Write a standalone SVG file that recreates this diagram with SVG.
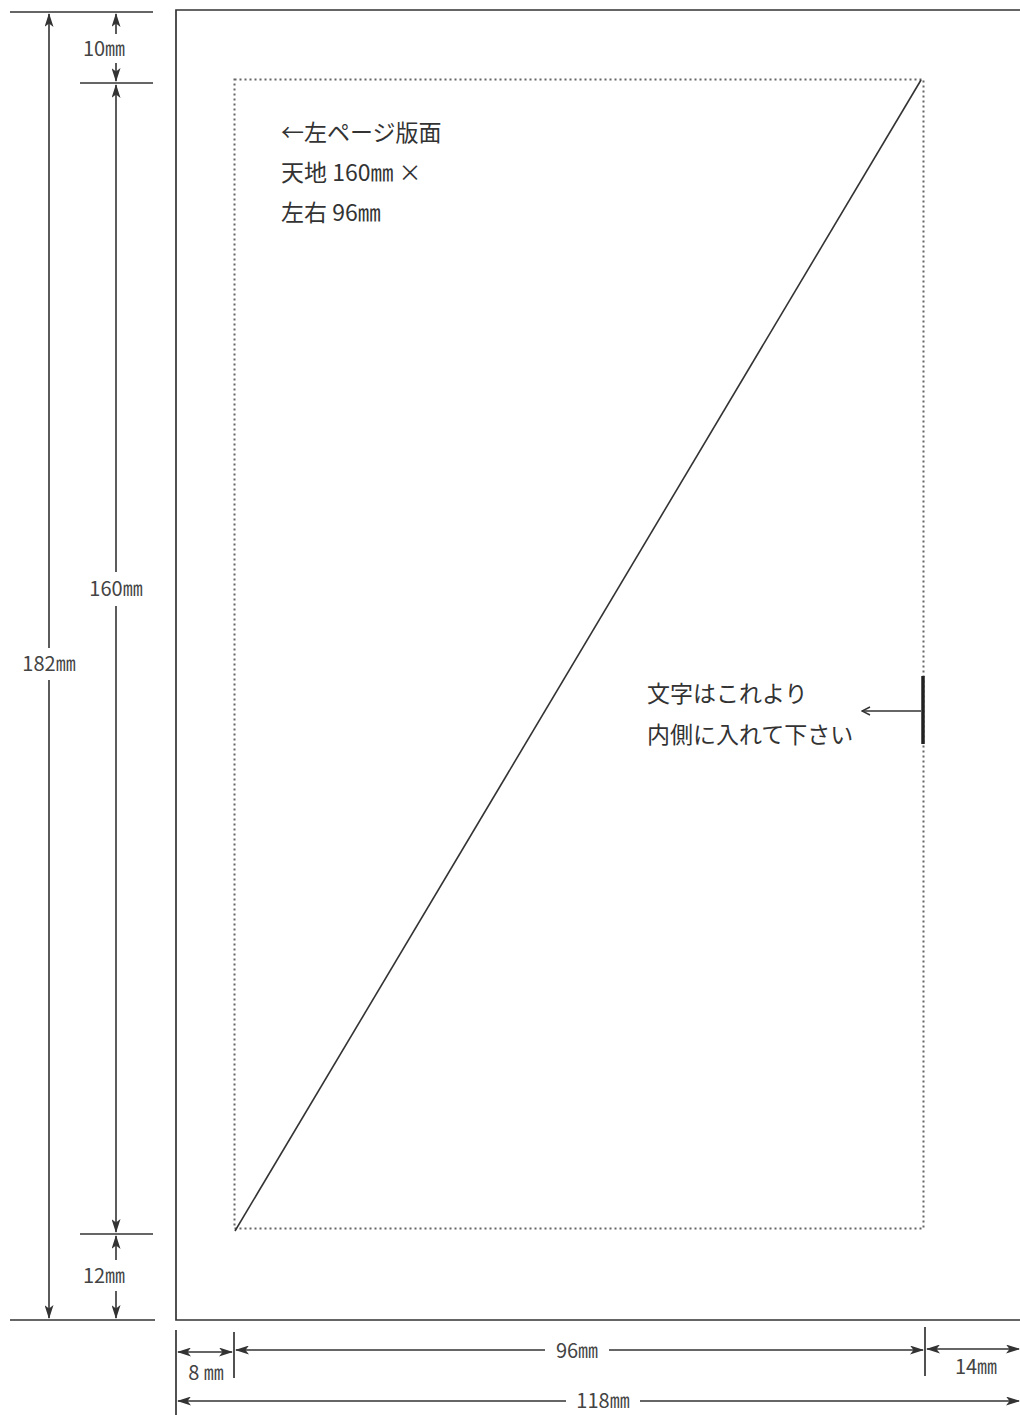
<svg xmlns="http://www.w3.org/2000/svg" width="1020" height="1415" viewBox="0 0 1020 1415">
<defs>
<marker id="ah" viewBox="0 0 14 9" refX="13" refY="4.5" markerWidth="14" markerHeight="9" markerUnits="userSpaceOnUse" orient="auto-start-reverse">
<path d="M0,0 L14,4.5 L0,9 L3.5,4.5 z" fill="#333"/>
</marker>
<marker id="open" viewBox="0 0 10 10" refX="9" refY="5" markerWidth="10" markerHeight="10" markerUnits="userSpaceOnUse" orient="auto">
<path d="M1,1 L9,5 L1,9" fill="none" stroke="#333" stroke-width="1.4"/>
</marker>
<style>
.ln{stroke:#333;stroke-width:1.7;fill:none}
.dim{stroke:#333;stroke-width:1.6;fill:none}
.arr{marker-end:url(#ah)}
.arr2{marker-start:url(#ah);marker-end:url(#ah)}
.lbl{font-family:"Noto Sans CJK JP","Noto Sans",sans-serif;fill:#444;font-size:20px;text-anchor:middle}
.txt{font-family:"Noto Sans CJK JP","Noto Sans",sans-serif;fill:#333;font-size:23px}
</style>
</defs>
<rect width="1020" height="1415" fill="#fff"/>

<g id="page">
<polyline class="ln" points="1020,10 176,10 176,1320 1020,1320" stroke-width="2"/>
</g>

<g id="type-area">
<rect x="234.5" y="79.5" width="689" height="1149" fill="none" stroke="#666" stroke-width="2" stroke-dasharray="2,3"/>
<line x1="235" y1="1231" x2="921" y2="80" stroke="#333" stroke-width="1.6"/>
</g>

<g id="caption-left">
<text class="txt" x="281" y="141">←左ページ版面</text>
<text class="txt" x="281" y="181">天地 160㎜ ×</text>
<text class="txt" x="281" y="221">左右 96㎜</text>
</g>

<g id="caption-right">
<text class="txt" x="647" y="702">文字はこれより</text>
<text class="txt" x="647" y="743">内側に入れて下さい</text>
</g>

<g id="connectors">
<line class="ln" x1="10" y1="12" x2="153" y2="12"/>
<line class="ln" x1="80" y1="83" x2="153" y2="83"/>
<line class="ln" x1="80" y1="1234" x2="153" y2="1234"/>
<line class="ln" x1="10" y1="1320" x2="155" y2="1320"/>
<line class="dim arr" x1="49" y1="648" x2="49" y2="14"/>
<line class="dim arr" x1="49" y1="680" x2="49" y2="1318"/>
<line class="dim arr" x1="116" y1="34" x2="116" y2="14"/>
<line class="dim arr" x1="116" y1="63" x2="116" y2="81"/>
<line class="dim arr" x1="116" y1="572" x2="116" y2="85"/>
<line class="dim arr" x1="116" y1="606" x2="116" y2="1232"/>
<line class="dim arr" x1="116" y1="1260" x2="116" y2="1236"/>
<line class="dim arr" x1="116" y1="1291" x2="116" y2="1318"/>
<line class="ln" x1="176" y1="1330" x2="176" y2="1415"/>
<line class="ln" x1="234" y1="1332" x2="234" y2="1378"/>
<line class="ln" x1="925" y1="1327" x2="925" y2="1376"/>
<line class="dim arr2" x1="178" y1="1352" x2="232" y2="1352"/>
<line class="dim arr" x1="545" y1="1350" x2="236" y2="1350"/>
<line class="dim arr" x1="609" y1="1350" x2="923" y2="1350"/>
<line class="dim arr2" x1="927" y1="1349" x2="1019" y2="1349"/>
<line class="dim arr" x1="566" y1="1401" x2="178" y2="1401"/>
<line class="dim arr" x1="640" y1="1401" x2="1019" y2="1401"/>
<line x1="923" y1="676" x2="923" y2="744" stroke="#222" stroke-width="3.5"/>
<line x1="921" y1="711" x2="862" y2="711" stroke="#333" stroke-width="1.5" marker-end="url(#open)"/>
</g>

<g id="labels">
<text class="lbl" x="49" y="671">182㎜</text>
<text class="lbl" x="104" y="56">10㎜</text>
<text class="lbl" x="116" y="596">160㎜</text>
<text class="lbl" x="104" y="1283">12㎜</text>
<text class="lbl" x="206" y="1380">8 ㎜</text>
<text class="lbl" x="577" y="1358">96㎜</text>
<text class="lbl" x="976" y="1374">14㎜</text>
<text class="lbl" x="603" y="1408">118㎜</text>
</g>
</svg>
